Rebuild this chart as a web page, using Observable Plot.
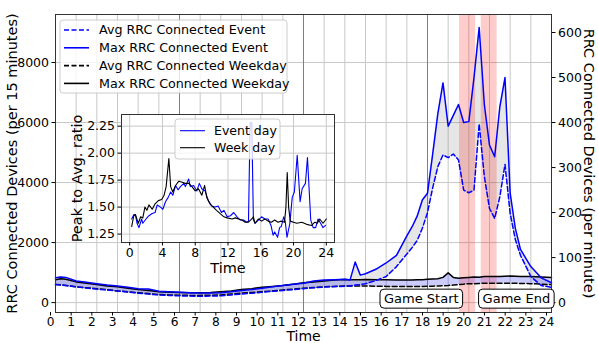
<!DOCTYPE html>
<html><head><meta charset="utf-8">
<script src="https://cdn.jsdelivr.net/npm/d3@7"></script>
<script src="https://cdn.jsdelivr.net/npm/@observablehq/plot@0.6"></script>
<style>
body{margin:0;background:#fff;}
#wrap{position:relative;width:598px;height:343px;overflow:hidden;}
#wrap svg{position:absolute;left:0;top:0;font-family:"DejaVu Sans",sans-serif;}
</style></head><body><div id="wrap"></div>
<script>
// ---------- main chart data (per-minute units; left axis = x15) ----------
const hours = [0,0.25,0.5,1,1.5,2,2.5,3,3.5,4,4.5,5,5.5,6,6.5,7,7.5,8,8.5,9,9.5,10,10.5,11,11.5,12,12.5,13,13.5,14,14.25,14.5,14.75,15,15.5,16,16.5,17,17.25,17.5,17.75,18,18.25,18.5,18.75,19,19.25,19.5,19.75,20,20.25,20.5,20.75,21,21.25,21.5,21.75,22,22.25,22.5,23,23.5,24];
const weekdayMax = [51,53,52,46,43,40,37,35,32,29,27,24,23,22.5,22,22,22.5,24,26,29,31,34,36,38,41,44,46,48,50,51.5,51,51,51,51.5,51,50.5,50,50,50,50.5,51,52,52.5,53,56,66,56,54,55,56,57,56.5,58,58,58,58,58.5,59,58.5,58,58,57,56];
const weekdayAvg = [40,39.5,38,35,33,31,28.5,26,24,22,20,18,17,16.5,16,16,16.5,17,19,21,22.5,24,26,28,30,32,33.5,35,36,37,37,37,37,37,36.5,36,35.5,35.5,35.5,36,36,36.5,36.5,37,37.5,38,39,40,41,42,42,42.5,43,43,43,43,43,43,43,42.5,42,41,40];
const eventMax = [55,57,56,48,45,42,39,37,34,31,30,25,24,23,22,21.5,21.5,22,24,27,29,32,35,38,41,43,48,50,51,52,50,90,61,64,74,88,105,148,168,192,228,243,330,420,488,392,416,440,400,402,500,611,440,350,324,435,500,243,165,118,80,55,44];
const eventAvg = [40,39,38,35,32.5,30,28,26,23.5,21,19,17,16,15,14.5,14,14.5,15,17,19,21,23,25,27,29,31,33,34.5,35.5,36.5,37,39,40,42,49,58,80,108,122,138,165,200,255,302,328,322,330,317,250,244,250,397,280,209,187,235,307,198,140,105,58,38,34];

// ---------- inset data (peak to average ratio) ----------
const eventDayHours = [0.24,0.5,0.7,0.9,1.13,1.46,1.6,2.0,2.35,2.75,3.1,3.36,3.77,4.05,4.37,4.7,5.0,5.26,5.6,5.9,6.2,6.6,6.8,7.2,7.4,7.8,8.2,8.5,8.8,9.2,9.6,10.0,10.4,10.8,11.2,11.5,11.9,12.3,12.7,13.1,13.5,13.9,14.3,14.5,14.7,14.9,15.1,15.3,15.7,16.1,16.5,16.9,17.25,17.5,17.7,18.05,18.3,18.5,18.8,19.0,19.2,19.55,19.84,20.1,20.45,20.8,21.05,21.45,21.7,22.1,22.4,22.7,23.0,23.3,23.6,23.9];
const eventDayRatio = [1.39,1.43,1.43,1.35,1.31,1.39,1.35,1.39,1.42,1.44,1.45,1.52,1.50,1.48,1.55,1.59,1.64,1.61,1.70,1.66,1.69,1.72,1.69,1.76,1.69,1.70,1.65,1.72,1.67,1.65,1.56,1.51,1.50,1.51,1.45,1.47,1.41,1.42,1.45,1.41,1.38,1.38,1.36,1.37,2.28,2.28,1.38,1.35,1.38,1.41,1.39,1.39,1.33,1.24,1.27,1.22,1.31,1.32,1.41,1.36,1.22,1.35,1.59,1.64,1.98,1.55,1.67,1.72,1.96,1.38,1.31,1.31,1.39,1.35,1.31,1.33];
const weekDayHours = [0.24,0.5,0.7,1.05,1.34,1.6,1.86,2.1,2.35,2.75,3.1,3.5,3.9,4.2,4.45,4.78,5.0,5.26,5.6,6.0,6.4,6.8,7.2,7.6,8.0,8.4,8.8,9.15,9.4,9.8,10.2,10.6,11.05,11.5,11.9,12.5,12.9,13.3,13.7,14.1,14.5,14.9,15.1,15.3,15.7,16.1,16.5,16.9,17.3,17.7,18.1,18.5,18.9,19.07,19.23,19.4,19.6,20.0,20.4,21.0,21.6,22.2,22.6,22.9,23.2,23.6,24.0];
const weekDayRatio = [1.32,1.42,1.43,1.35,1.41,1.40,1.50,1.47,1.52,1.48,1.53,1.56,1.57,1.61,1.69,1.95,1.69,1.64,1.70,1.74,1.73,1.72,1.72,1.69,1.65,1.67,1.61,1.70,1.59,1.53,1.50,1.47,1.44,1.41,1.40,1.39,1.40,1.39,1.38,1.36,1.36,1.39,1.41,1.35,1.39,1.37,1.39,1.37,1.36,1.38,1.36,1.37,1.36,1.50,1.82,1.50,1.37,1.36,1.35,1.36,1.34,1.33,1.36,1.35,1.39,1.35,1.39];

// ---------- ticks, markers, labels ----------
const leftTicks = [0,2000,4000,6000,8000];
const rightTicks = [0,100,200,300,400,500,600];
const xTicks = d3.range(0,25);
const insetXTicks = [0,4,8,12,16,20,24];
const insetYTicks = [1.25,1.5,1.75,2.0,2.25];
const markerHours = [6,12,18];
const spanStarts = [19.55,20.6];
const spanEnds = [20.33,21.37];
const noteLabels = ["Game Start","Game End"];
const noteHours = [17.7,22.3];
const legendLabels = ["Avg RRC Connected Event","Max RRC Connected Event","Avg RRC Connected Weekday","Max RRC Connected Weekday"];
const insetLegendLabels = ["Event day","Week day"];

const rows = hours.map((h,i)=>({h, wMax:weekdayMax[i], wAvg:weekdayAvg[i], eMax:eventMax[i], eAvg:eventAvg[i]}));
const spans = spanStarts.map((s,i)=>({s, e:spanEnds[i]}));
const notes = noteLabels.map((t,i)=>({t, h:noteHours[i]}));
const evRows = eventDayHours.map((h,i)=>({h, r:eventDayRatio[i]}));
const wkRows = weekDayHours.map((h,i)=>({h, r:weekDayRatio[i]}));

const FONT = "DejaVu Sans, sans-serif";
const gridColor = "#c8c8c8";
const frameColor = "#333";

const main = Plot.plot({
  width: 598, height: 343,
  marginLeft: 55, marginRight: 47, marginTop: 14, marginBottom: 31,
  style: {fontFamily: FONT, fontSize: "12px", background: "white", color: "black"},
  x: {domain: [0,24]},
  y: {domain: [-22,640]},
  marks: [
    Plot.gridY(leftTicks.map(v=>v/15), {stroke: gridColor, strokeOpacity: 1, strokeWidth: 1}),
    Plot.gridX(xTicks, {stroke: gridColor, strokeOpacity: 1, strokeWidth: 1}),
    Plot.areaY(rows, {x:"h", y1:"eAvg", y2:"eMax", fill:"#808080", fillOpacity:0.2}),
    Plot.areaY(rows, {x:"h", y1:"wAvg", y2:"wMax", fill:"#0000ff", fillOpacity:0.2}),
    Plot.rect(spans, {x1:"s", x2:"e", fill:"#ff0000", fillOpacity:0.2}),
    Plot.ruleX(markerHours, {stroke:"#5050ff", strokeWidth:0.8, strokeOpacity:0.9}),
    Plot.line(rows, {x:"h", y:"wAvg", stroke:"black", strokeWidth:1.5, strokeDasharray:"5,2.5"}),
    Plot.line(rows, {x:"h", y:"wMax", stroke:"black", strokeWidth:1.5}),
    Plot.line(rows, {x:"h", y:"eAvg", stroke:"#0000ff", strokeWidth:1.5, strokeDasharray:"5,2.5"}),
    Plot.line(rows, {x:"h", y:"eMax", stroke:"#0000ff", strokeWidth:1.5}),
    Plot.frame({stroke: frameColor, strokeWidth: 1}),
    Plot.axisY({ticks: leftTicks.map(v=>v/15), anchor:"left", tickFormat: d=>String(Math.round(d*15)), label:null, tickSize:3.5, tickPadding:3, fontSize:12.5}),
    Plot.axisY({ticks: rightTicks, anchor:"right", tickFormat: d=>String(d), label:null, tickSize:3.5, tickPadding:3, fontSize:12.5}),
    Plot.axisX({ticks: xTicks, anchor:"bottom", tickFormat: d=>String(d), label:null, tickSize:3.5, tickPadding:1, fontSize:12.2, dx:-5}),
    Plot.text(["Time"], {text:d=>d, frameAnchor:"bottom", textAnchor:"middle", lineAnchor:"middle", dy:24.3, fontSize:14}),
    Plot.text(["RRC Connected Devices (per 15 minutes)"], {text:d=>d, frameAnchor:"left", textAnchor:"middle", lineAnchor:"middle", rotate:-90, dx:-43, fontSize:14.5}),
    Plot.text(["RRC Connected Devices (per minute)"], {text:d=>d, frameAnchor:"right", textAnchor:"middle", lineAnchor:"middle", rotate:90, dx:37, fontSize:14.5}),
    Plot.text(notes, {x:"h", y:()=>8, text:"t", fontSize:13, lineAnchor:"middle"})
  ]
});
const wrap = document.getElementById("wrap");
wrap.appendChild(main);

// boxes around the annotations
const msvg = d3.select(main);
msvg.selectAll("text").filter(function(){ return noteLabels.includes(this.textContent); }).each(function(){
  const b = this.getBBox();
  const tr = this.getAttribute("transform");
  const r = document.createElementNS("http://www.w3.org/2000/svg","rect");
  r.setAttribute("x", b.x-4); r.setAttribute("y", b.y-2);
  r.setAttribute("width", b.width+8); r.setAttribute("height", b.height+4);
  r.setAttribute("rx", 4); r.setAttribute("fill","white"); r.setAttribute("stroke","black"); r.setAttribute("stroke-width",1);
  if (tr) r.setAttribute("transform", tr);
  this.parentNode.insertBefore(r, this);
});

// main legend
const lg = msvg.append("g").attr("font-family", FONT).attr("font-size", 12.7).attr("text-anchor","start");
lg.append("rect").attr("x",60).attr("y",20).attr("width",227).attr("height",73).attr("rx",3)
  .attr("fill","white").attr("fill-opacity",0.8).attr("stroke","#cccccc");
const legStyles = [["#0000ff","5,2.5"],["#0000ff",null],["black","5,2.5"],["black",null]];
legendLabels.forEach((t,i)=>{
  const yy = 30 + i*17.8;
  const ln = lg.append("line").attr("x1",64).attr("x2",89).attr("y1",yy).attr("y2",yy)
    .attr("stroke",legStyles[i][0]).attr("stroke-width",1.6);
  if (legStyles[i][1]) ln.attr("stroke-dasharray",legStyles[i][1]);
  lg.append("text").attr("x",99).attr("y",yy).attr("dy","0.35em").attr("fill","black").text(t);
});

// ---------- inset ----------
const inset = Plot.plot({
  width: 284, height: 174,
  marginLeft: 61, marginRight: 10, marginTop: 10, marginBottom: 36,
  style: {fontFamily: FONT, fontSize: "12px", background: "transparent", color: "black", overflow: "visible"},
  x: {domain: [-1,25]},
  y: {domain: [1.172,2.358]},
  marks: [
    Plot.frame({fill:"white"}),
    Plot.gridY(insetYTicks, {stroke: gridColor, strokeOpacity:1}),
    Plot.gridX(insetXTicks, {stroke: gridColor, strokeOpacity:1}),
    Plot.line(evRows, {x:"h", y:"r", stroke:"#0000ff", strokeWidth:1.1}),
    Plot.line(wkRows, {x:"h", y:"r", stroke:"black", strokeWidth:1.1}),
    Plot.frame({stroke: frameColor}),
    Plot.axisY({ticks: insetYTicks, anchor:"left", tickFormat: d=>d.toFixed(2), label:null, tickSize:3.5, tickPadding:3, fontSize:12.5}),
    Plot.axisX({ticks: insetXTicks, anchor:"bottom", tickFormat: d=>String(d), label:null, tickSize:3.5, tickPadding:2, fontSize:12.5}),
    Plot.text(["Time"], {text:d=>d, frameAnchor:"bottom", textAnchor:"middle", lineAnchor:"middle", dy:26, fontSize:14.5}),
    Plot.text(["Peak to Avg. ratio"], {text:d=>d, frameAnchor:"left", textAnchor:"middle", lineAnchor:"middle", rotate:-90, dx:-44, fontSize:14.5})
  ]
});
inset.style.left = "60px"; inset.style.top = "104px";
wrap.appendChild(inset);
const isvg = d3.select(inset);
const ilg = isvg.append("g").attr("font-family", FONT).attr("font-size", 12.5).attr("text-anchor","start");
ilg.append("rect").attr("x",115).attr("y",15).attr("width",105).attr("height",40).attr("rx",3)
  .attr("fill","white").attr("fill-opacity",0.8).attr("stroke","#cccccc");
["#0000ff","black"].forEach((c,i)=>{
  const yy = 26.7 + i*17;
  ilg.append("line").attr("x1",120).attr("x2",145).attr("y1",yy).attr("y2",yy).attr("stroke",c).attr("stroke-width",1.1);
  ilg.append("text").attr("x",154).attr("y",yy).attr("dy","0.35em").attr("fill","black").text(insetLegendLabels[i]);
});
</script></body></html>
